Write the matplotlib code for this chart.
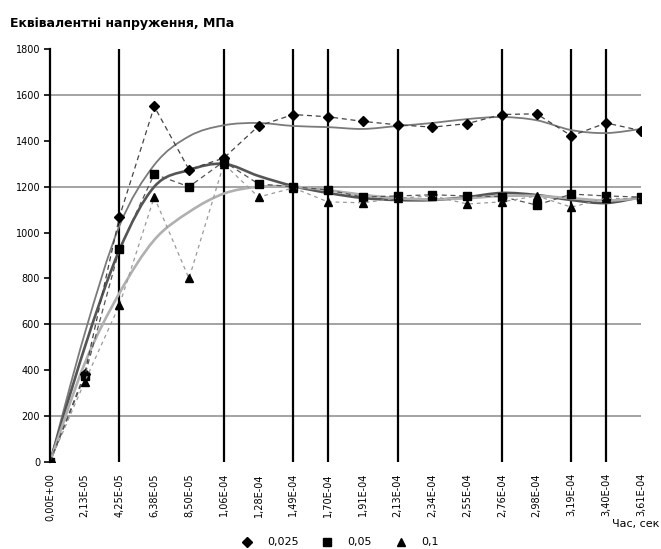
import matplotlib
matplotlib.use("Agg")
import matplotlib.pyplot as plt
from matplotlib.path import Path
from matplotlib.patches import PathPatch

# time axis categories (s)
times = ["0,00E+00", "2,13E-05", "4,25E-05", "6,38E-05", "8,50E-05", "1,06E-04",
         "1,28E-04", "1,49E-04", "1,70E-04", "1,91E-04", "2,13E-04", "2,34E-04",
         "2,55E-04", "2,76E-04", "2,98E-04", "3,19E-04", "3,40E-04", "3,61E-04"]

# equivalent stress, MPa
s_025 = [0, 385, 1070, 1550, 1275, 1325, 1465, 1515, 1505, 1485, 1470, 1460,
         1475, 1515, 1518, 1422, 1478, 1445]
s_05 = [0, 375, 930, 1255, 1200, 1310, 1212, 1200, 1186, 1155, 1160, 1165,
        1160, 1157, 1120, 1168, 1160, 1155]
s_1 = [0, 350, 685, 1155, 800, 1300, 1155, 1195, 1134, 1130, 1150, 1160,
       1125, 1134, 1160, 1111, 1150, 1147]

# smoothed trend curves
t_025 = [0, 560, 1030, 1295, 1420, 1468, 1478, 1465, 1460, 1452, 1465, 1478,
         1495, 1504, 1490, 1447, 1434, 1452]
t_05 = [0, 500, 925, 1200, 1273, 1300, 1247, 1203, 1173, 1151, 1142, 1142,
        1155, 1173, 1164, 1142, 1129, 1155]
t_1 = [0, 430, 737, 968, 1090, 1170, 1200, 1200, 1185, 1165, 1150, 1145,
       1150, 1160, 1160, 1150, 1140, 1150]

labels = ["0,025", "0,05", "0,1"]
dark_vlines = [2, 5, 7, 8, 10, 13, 15, 16]
grid_y = [200, 600, 1200, 1600]


def smooth_line(ax, xs, ys, **kw):
    # Excel-style smoothed line: bezier segments through the points
    verts = [(xs[0], ys[0])]
    codes = [Path.MOVETO]
    n = len(xs)
    for i in range(n - 1):
        x0, y0 = xs[max(i - 1, 0)], ys[max(i - 1, 0)]
        x1, y1 = xs[i], ys[i]
        x2, y2 = xs[i + 1], ys[i + 1]
        x3, y3 = xs[min(i + 2, n - 1)], ys[min(i + 2, n - 1)]
        c1 = (x1 + (x2 - x0) / 6, y1 + (y2 - y0) / 6)
        c2 = (x2 - (x3 - x1) / 6, y2 - (y3 - y1) / 6)
        verts += [c1, c2, (x2, y2)]
        codes += [Path.CURVE4] * 3
    ax.add_patch(PathPatch(Path(verts, codes), fill=False, **kw))


fig = plt.figure(figsize=(6.61, 5.49), dpi=100)
ax = fig.add_axes([0.0756, 0.1585, 0.894, 0.752])
x = list(range(len(times)))

for yv in grid_y:
    ax.axhline(yv, color="#8a8a8a", lw=1.1, zorder=1)
for xv in dark_vlines:
    ax.axvline(xv, color="black", lw=1.6, zorder=1)

smooth_line(ax, x, t_025, edgecolor="#7a7a7a", lw=1.3, zorder=2)
smooth_line(ax, x, t_05, edgecolor="#555555", lw=1.9, zorder=2)
smooth_line(ax, x, t_1, edgecolor="#b0b0b0", lw=1.9, zorder=2)

ax.plot(x, s_025, ls=(0, (4, 3)), color="#444444", lw=0.9, marker="D",
        ms=5, mfc="black", mec="black", zorder=3)
ax.plot(x, s_05, ls=(0, (4, 3)), color="#555555", lw=0.9, marker="s",
        ms=5.5, mfc="black", mec="black", zorder=3)
ax.plot(x, s_1, ls=(0, (3, 3)), color="#9a9a9a", lw=0.9, marker="^",
        ms=5.5, mfc="black", mec="black", zorder=3)

ax.set_xlim(0, len(times) - 1)
ax.set_ylim(0, 1800)
ax.set_yticks(range(0, 1801, 200))
ax.set_yticklabels([str(v) for v in range(0, 1801, 200)], fontsize=7)
ax.set_xticks(x)
ax.set_xticklabels(times, rotation=90, fontsize=7)
ax.tick_params(axis="x", length=0, pad=8)
ax.tick_params(axis="y", length=4, width=1.2, color="black", pad=3)
for side in ("top", "right", "bottom"):
    ax.spines[side].set_visible(False)
ax.spines["left"].set_linewidth(1.6)
ax.spines["left"].set_color("black")

fig.text(0.015, 0.958, "Еквівалентні напруження, МПа", fontsize=9,
         fontweight="bold", ha="left", va="center")
fig.text(0.998, 0.045, "Час, сек", fontsize=8, ha="right", va="center")

handles = [
    plt.Line2D([], [], ls="none", marker="D", ms=5, color="black"),
    plt.Line2D([], [], ls="none", marker="s", ms=6, color="black"),
    plt.Line2D([], [], ls="none", marker="^", ms=6, color="black"),
]
fig.legend(handles, labels, loc="center", bbox_to_anchor=(0.51, 0.012),
           ncol=3, frameon=False, fontsize=8, handletextpad=0.8,
           columnspacing=1.6)

fig.savefig("out.png", dpi=100)
